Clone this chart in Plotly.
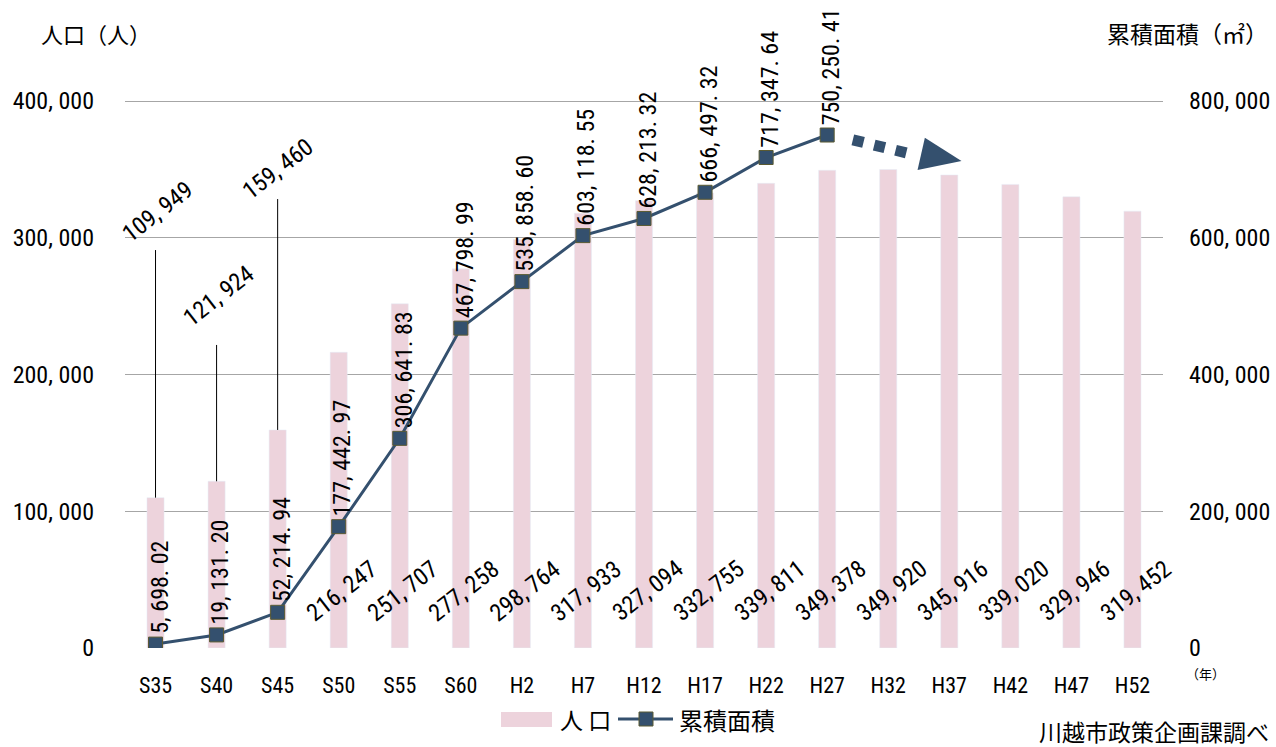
import plotly.graph_objects as go

categories = ["S35", "S40", "S45", "S50", "S55", "S60", "H2", "H7", "H12", "H17",
              "H22", "H27", "H32", "H37", "H42", "H47", "H52"]
population = [109949, 121924, 159460, 216247, 251707, 277258, 298764, 317933, 327094,
              332755, 339811, 349378, 349920, 345916, 339020, 329946, 319452]
area = [5698.02, 19131.20, 52214.94, 177442.97, 306641.83, 467798.99, 535858.60,
        603118.55, 628213.32, 666497.32, 717347.64, 750250.41]
left_ticks = [0, 100000, 200000, 300000, 400000]
right_ticks = [0, 200000, 400000, 600000, 800000]

NUM_FONT = "Liberation Sans Narrow, Roboto Condensed, Liberation Sans, sans-serif"
JP_FONT = "Noto Sans CJK JP, sans-serif"
BAR_COLOR = "#EDD3DC"
LINE_COLOR = "#34506E"

W, H = 1276, 747
ML, MR, MT, MB = 125, 113, 5, 99
PW, PH = W - ML - MR, H - MT - MB


def px2x(px):
    return (px - ML) / PW


def py2y(py):
    return (H - MB - py) / PH


def fmt_int(v):
    return f"{v:,}".replace(",", ", ")


def fmt_area(v):
    return f"{v:,.2f}".replace(",", ", ").replace(".", ". ")


xs = list(range(len(categories)))
fig = go.Figure()
fig.add_trace(go.Bar(x=xs, y=population, name="人口", marker_color=BAR_COLOR,
                     width=0.28, yaxis="y", showlegend=False))
fig.add_trace(go.Scatter(x=xs[:len(area)], y=area, name="累積面積", yaxis="y2",
                         mode="lines+markers", showlegend=False,
                         line=dict(color=LINE_COLOR, width=3),
                         marker=dict(symbol="square", size=14, color=LINE_COLOR,
                                     line=dict(color="#5a5a32", width=1))))

annotations = []
shapes = []
LBL_ANGLE = -38
# population labels
special = {0: (319000, 291000, 0.03), 1: (257500, 221600, 0.03), 2: (350500, 328300, 0.0)}
for i, v in enumerate(population):
    if i in special:
        ty, ly, dx = special[i]
        annotations.append(dict(x=xs[i] + dx, y=ty, xref="x", yref="y", text=fmt_int(v),
                                showarrow=False, textangle=LBL_ANGLE,
                                font=dict(family=NUM_FONT, size=24, color="#000")))
        shapes.append(dict(type="line", xref="x", yref="y", x0=xs[i], x1=xs[i],
                           y0=v, y1=ly, line=dict(color="#000", width=1)))
    else:
        annotations.append(dict(x=xs[i] + 0.05, y=42000, xref="x", yref="y", text=fmt_int(v),
                                showarrow=False, textangle=LBL_ANGLE,
                                font=dict(family=NUM_FONT, size=24, color="#000")))
# area labels
for i, v in enumerate(area):
    annotations.append(dict(x=xs[i] + 0.06, y=v, xref="x", yref="y2", text=fmt_area(v),
                            showarrow=False, textangle=-90, yanchor="bottom",
                            xanchor="center", yshift=8,
                            font=dict(family=NUM_FONT, size=24, color="#000")))

# dotted trend arrow after last area point
last_i = len(area) - 1
shapes.append(dict(type="line", xref="x", yref="y2",
                   x0=last_i + 0.42, y0=area[-1] - 7000,
                   x1=last_i + 1.38, y1=area[-1] - 28000,
                   line=dict(color=LINE_COLOR, width=11, dash="dot")))
shapes.append(dict(type="path", xref="x", yref="y2",
                   path=(f"M {last_i + 1.6} {area[-1] - 4000} "
                         f"L {last_i + 2.2} {area[-1] - 38000} "
                         f"L {last_i + 1.48} {area[-1] - 51000} Z"),
                   fillcolor=LINE_COLOR, line=dict(width=0)))

# custom legend
shapes.append(dict(type="rect", xref="paper", yref="paper",
                   x0=px2x(501), x1=px2x(552), y0=py2y(727), y1=py2y(712),
                   fillcolor=BAR_COLOR, line=dict(width=0)))
shapes.append(dict(type="line", xref="paper", yref="paper",
                   x0=px2x(618), x1=px2x(673), y0=py2y(719), y1=py2y(719),
                   line=dict(color=LINE_COLOR, width=3)))
shapes.append(dict(type="rect", xref="paper", yref="paper",
                   x0=px2x(639), x1=px2x(653), y0=py2y(726), y1=py2y(712),
                   fillcolor=LINE_COLOR, line=dict(color="#5a5a32", width=1)))
annotations += [
    dict(x=px2x(558), y=py2y(719), xref="paper", yref="paper", text="人 口",
         showarrow=False, xanchor="left", yanchor="middle",
         font=dict(family=JP_FONT, size=23, color="#000")),
    dict(x=px2x(677), y=py2y(719), xref="paper", yref="paper", text="累積面積",
         showarrow=False, xanchor="left", yanchor="middle",
         font=dict(family=JP_FONT, size=24, color="#000")),
]

annotations += [
    dict(x=px2x(39), y=py2y(33), xref="paper", yref="paper", text="人口（人）",
         showarrow=False, xanchor="left", yanchor="middle",
         font=dict(family=JP_FONT, size=22, color="#000")),
    dict(x=px2x(1270), y=py2y(33), xref="paper", yref="paper", text="累積面積（㎡）",
         showarrow=False, xanchor="right", yanchor="middle",
         font=dict(family=JP_FONT, size=23, color="#000")),
    dict(x=px2x(1205), y=py2y(673), xref="paper", yref="paper", text="（年）",
         showarrow=False, xanchor="center", yanchor="middle",
         font=dict(family=JP_FONT, size=13, color="#000")),
    dict(x=px2x(1271), y=py2y(731), xref="paper", yref="paper", text="川越市政策企画課調べ",
         showarrow=False, xanchor="right", yanchor="middle",
         font=dict(family=JP_FONT, size=23, color="#000")),
]

fig.update_layout(
    width=W, height=H,
    margin=dict(l=ML, r=MR, t=MT, b=MB),
    paper_bgcolor="white", plot_bgcolor="white",
    showlegend=False,
    xaxis=dict(tickvals=xs, ticktext=categories, range=[-0.5, len(categories) - 0.5],
               showgrid=False, zeroline=False, showline=False, ticks="",
               ticklabelstandoff=22,
               tickfont=dict(family=NUM_FONT, size=22, color="#000")),
    yaxis=dict(range=[0, 470200], tickvals=left_ticks,
               ticktext=[fmt_int(v) for v in left_ticks],
               showgrid=True, gridcolor="#A6A6A6", gridwidth=1, zeroline=False,
               ticks="", ticklabelstandoff=30,
               tickfont=dict(family=NUM_FONT, size=24, color="#000")),
    yaxis2=dict(range=[0, 940400], tickvals=right_ticks,
                ticktext=[fmt_int(v) for v in right_ticks],
                overlaying="y", side="right", showgrid=False, zeroline=False,
                ticks="", ticklabelstandoff=25,
                tickfont=dict(family=NUM_FONT, size=24, color="#000")),
    annotations=annotations,
    shapes=shapes,
)

fig.write_html("out.html", config={"displayModeBar": False},
               post_script="document.body.style.margin='0';document.body.style.overflow='hidden';")
